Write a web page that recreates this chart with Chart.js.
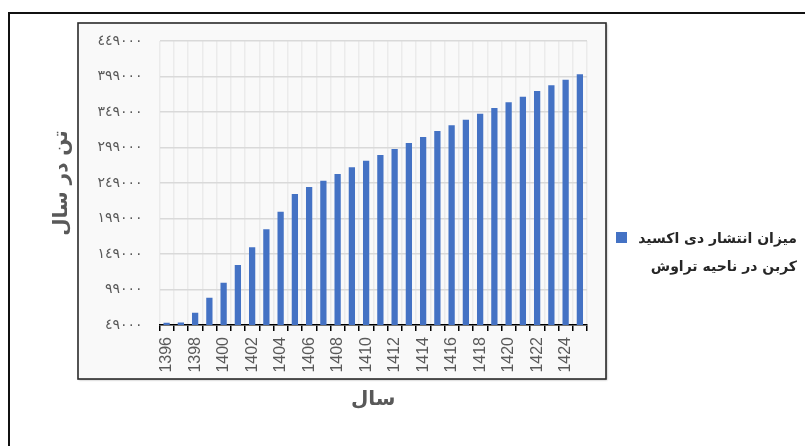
<!DOCTYPE html>
<html lang="fa">
<head>
<meta charset="utf-8">
<title>میزان انتشار دی اکسید کربن در ناحیه تراوش</title>
<script src="https://cdn.jsdelivr.net/npm/chart.js@4.4.1/dist/chart.umd.min.js"></script>
<style>
  html, body { margin: 0; padding: 0; background: #ffffff; }
  #wrap { position: relative; width: 806px; height: 446px; }
</style>
</head>
<body>
<div id="wrap"><canvas id="chart" width="806" height="446"></canvas></div>
<script>
// Years (Solar Hijri)
const years = ['1396','1397','1398','1399','1400','1401','1402','1403','1404','1405',
               '1406','1407','1408','1409','1410','1411','1412','1413','1414','1415',
               '1416','1417','1418','1419','1420','1421','1422','1423','1424','1425'];

// CO2 emission, tonnes per year
const emissions = [52000, 52500, 66300, 87500, 108600, 133500, 158400, 183800, 208600, 233500,
                   243400, 252200, 261700, 271100, 280400, 288400, 296900, 305300, 313800, 322200,
                   330300, 338200, 346600, 354600, 362700, 370500, 378600, 386600, 394500, 402100];

// Value axis ticks
const yTicks = [49000, 99000, 149000, 199000, 249000, 299000, 349000, 399000, 449000];

// Series name, written over two lines in the legend
const seriesLines = ['میزان انتشار دی اکسید', 'کربن در ناحیه تراوش'];
const seriesName = seriesLines.join(' ');

const xTitle = 'سال';
const yTitle = 'تن در سال';

const BAR_BLUE = '#4472c4';
const AXIS_GREY = '#595959';

const indicDigits = '٠١٢٣٤٥٦٧٨٩';
function toIndic(n) {
  return String(n).replace(/[0-9]/g, d => indicDigits[+d]);
}

// Page frame, plot box and legend
const framePlugin = {
  id: 'frame',
  beforeDraw(chart) {
    const ctx = chart.ctx;
    ctx.save();
    ctx.fillStyle = '#ffffff';
    ctx.fillRect(0, 0, chart.width, chart.height);

    // outer frame (top and left edges)
    ctx.strokeStyle = '#111111';
    ctx.lineWidth = 2;
    ctx.beginPath();
    ctx.moveTo(805, 13);
    ctx.lineTo(9, 13);
    ctx.lineTo(9, 446);
    ctx.stroke();

    // plot box with a soft shadow
    ctx.shadowColor = 'rgba(0,0,0,0.35)';
    ctx.shadowBlur = 2;
    ctx.shadowOffsetX = 1;
    ctx.shadowOffsetY = 1;
    ctx.fillStyle = '#f9f9f9';
    ctx.fillRect(78, 23, 528, 356);
    ctx.shadowColor = 'transparent';
    ctx.strokeStyle = '#2b2b2b';
    ctx.lineWidth = 1.6;
    ctx.strokeRect(78, 23, 528, 356);
    ctx.restore();
  },
  afterDraw(chart) {
    const ctx = chart.ctx;
    ctx.save();
    ctx.fillStyle = BAR_BLUE;
    ctx.fillRect(616, 232, 11, 11);
    ctx.fillStyle = '#262626';
    ctx.font = 'bold 14px "DejaVu Sans"';
    ctx.textAlign = 'right';
    ctx.textBaseline = 'middle';
    ctx.fillText(seriesLines[0], 797, 239);
    ctx.fillText(seriesLines[1], 797, 267);
    ctx.restore();
  }
};

new Chart(document.getElementById('chart'), {
  type: 'bar',
  data: {
    labels: years,
    datasets: [{
      label: seriesName,
      data: emissions,
      backgroundColor: BAR_BLUE,
      borderWidth: 0,
      barPercentage: 0.44,
      categoryPercentage: 1
    }]
  },
  options: {
    responsive: false,
    animation: false,
    devicePixelRatio: 1,
    layout: { padding: { left: 40, right: 219, top: 41, bottom: 0 } },
    plugins: {
      legend: { display: false },
      tooltip: { enabled: false }
    },
    scales: {
      x: {
        offset: true,
        afterFit(scale) { scale.height = 121; },
        border: { display: true, color: '#000000', width: 1.5 },
        grid: {
          display: true,
          offset: true,
          color: '#ebebeb',
          lineWidth: 1.5,
          drawTicks: true,
          tickLength: 6,
          tickColor: '#000000',
          tickWidth: 1.5
        },
        ticks: {
          autoSkip: false,
          maxRotation: 90,
          minRotation: 90,
          padding: 6,
          color: AXIS_GREY,
          font: { family: '"Liberation Sans", Arial, sans-serif', size: 16 },
          callback(value, index) {
            return index % 2 === 0 ? this.getLabelForValue(value) : '';
          }
        },
        title: {
          display: true,
          text: xTitle,
          color: AXIS_GREY,
          font: { family: '"DejaVu Sans"', size: 20, weight: 'bold' },
          padding: { top: 0, bottom: 34 }
        }
      },
      y: {
        min: yTicks[0],
        max: yTicks[yTicks.length - 1],
        afterFit(scale) { scale.width = 119.5; },
        afterBuildTicks(scale) { scale.ticks = yTicks.map(v => ({ value: v })); },
        border: { display: false },
        grid: {
          color: '#d9d9d9',
          lineWidth: 1.5,
          drawTicks: false
        },
        ticks: {
          padding: 17,
          color: AXIS_GREY,
          font: { family: '"DejaVu Sans"', size: 14 },
          callback(value) { return toIndic(value); }
        },
        title: {
          display: true,
          text: yTitle,
          color: AXIS_GREY,
          font: { family: '"DejaVu Sans"', size: 20, weight: 'bold' },
          padding: { top: 10, bottom: 0 }
        }
      }
    }
  },
  plugins: [framePlugin]
});
</script>
</body>
</html>
